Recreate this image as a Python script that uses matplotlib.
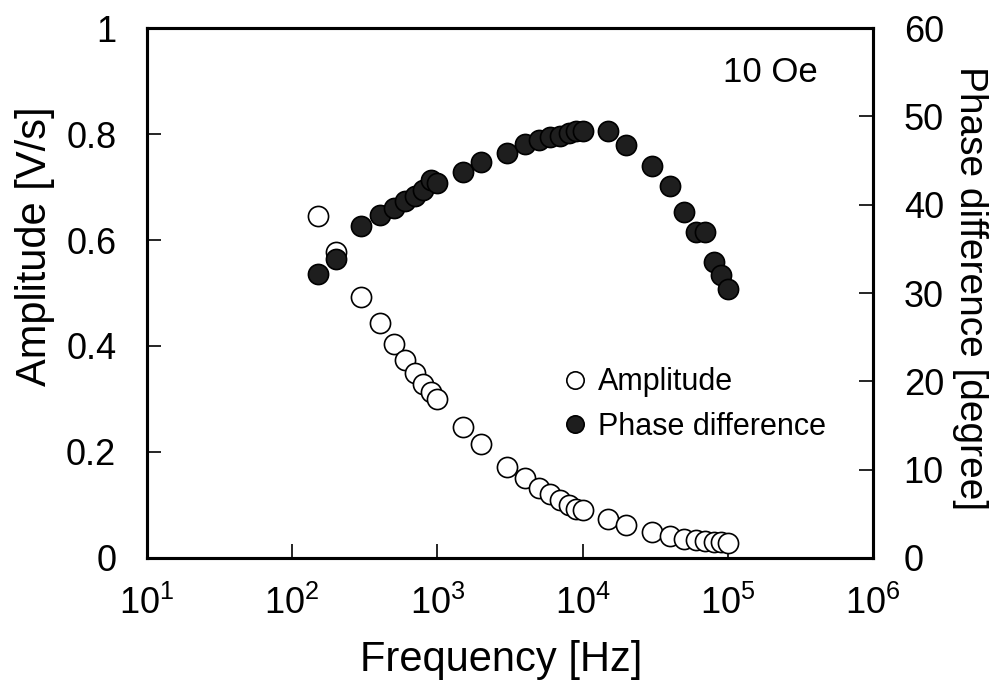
import matplotlib
matplotlib.use("Agg")
import matplotlib.pyplot as plt
from matplotlib.lines import Line2D

plt.rcParams['font.family'] = ['Liberation Sans', 'DejaVu Sans']
plt.rcParams['mathtext.fontset'] = 'custom'
plt.rcParams['mathtext.rm'] = 'Liberation Sans'

freq = [150, 200, 300, 400, 500, 600, 700, 800, 900, 1000, 1500, 2000, 3000, 4000,
        5000, 6000, 7000, 8000, 9000, 10000, 15000, 20000, 30000, 40000, 50000,
        60000, 70000, 80000, 90000, 100000]
amplitude = [0.645, 0.577, 0.492, 0.443, 0.404, 0.374, 0.349, 0.328, 0.313, 0.300,
             0.247, 0.215, 0.172, 0.151, 0.132, 0.121, 0.109, 0.100, 0.092, 0.091,
             0.074, 0.062, 0.049, 0.042, 0.036, 0.034, 0.032, 0.030, 0.030, 0.028]
phase = [32.2, 33.9, 37.6, 38.8, 39.6, 40.4, 41.0, 41.7, 42.8, 42.5,
         43.7, 44.8, 45.9, 46.9, 47.3, 47.7, 47.8, 48.1, 48.3, 48.3,
         48.3, 46.8, 44.4, 42.1, 39.2, 36.9, 36.9, 33.5, 32.0, 30.5]

fig = plt.figure(figsize=(9.99, 6.87), dpi=100)
ax = fig.add_axes([0.147, 0.188, 0.727, 0.771])
ax2 = ax.twinx()

ms = 14.5
fill = '#1e1e1e'
ax.plot(freq, amplitude, 'o', ms=ms, mfc='white', mec='black', mew=1.2, zorder=3)
ax2.plot(freq, phase, 'o', ms=ms, mfc=fill, mec='black', mew=1.2, zorder=3)

ax.set_xscale('log')
ax.set_xlim(10, 1e6)
ax.set_ylim(0, 1)
ax2.set_ylim(0, 60)
ax.set_yticks([0, 0.2, 0.4, 0.6, 0.8, 1])
ax.set_yticklabels(['0', '0.2', '0.4', '0.6', '0.8', '1'])
ax2.set_yticks([0, 10, 20, 30, 40, 50, 60])
ax.xaxis.set_minor_locator(matplotlib.ticker.NullLocator())

for a in (ax, ax2):
    for s in a.spines.values():
        s.set_linewidth(2.2)
    a.tick_params(direction='in', length=10, width=1.2, labelsize=26, pad=22)
ax.tick_params(axis='x', pad=20)

ax.set_xlabel('Frequency [Hz]', fontsize=30, va='center', ha='center')
ax.xaxis.set_label_coords(0.4876, -0.1925)
ax.set_ylabel('Amplitude [V/s]', fontsize=30, va='center', ha='center')
ax.yaxis.set_label_coords(-0.154, 0.588)
ax2.set_ylabel('Phase difference [degree]', fontsize=28, rotation=270, va='center', ha='center')
ax2.yaxis.set_label_coords(1.1336, 0.51)

fig.text(0.7708, 0.895, '10 Oe', fontsize=25, ha='center', va='center')

lms = 12.5
handles = [Line2D([], [], ls='none', marker='o', ms=lms, mfc='white', mec='black', mew=1.2),
           Line2D([], [], ls='none', marker='o', ms=lms, mfc=fill, mec='black', mew=1.2)]
fig.legend(handles, ['Amplitude', 'Phase difference'], frameon=False, fontsize=22,
           loc='center left', bbox_to_anchor=(0.5633, 0.4112), handletextpad=0.35,
           labelspacing=0.46, handlelength=0.8, borderpad=0, borderaxespad=0)

fig.savefig('out.png', dpi=100)
